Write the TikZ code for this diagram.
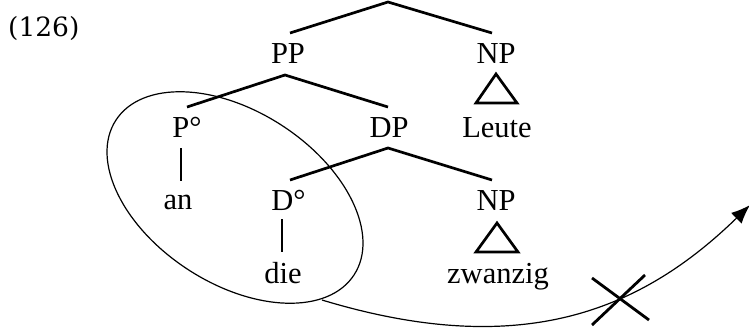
\documentclass[tikz,border=0pt]{standalone}
\usepackage{fontspec}
\setmainfont{Liberation Serif}
\newfontfamily\numfont{DejaVu Serif}
\usetikzlibrary{arrows.meta,shapes.geometric}
\begin{document}
\begin{tikzpicture}[x=1pt,y=-1pt,
  lbl/.style={anchor=base,inner sep=0pt,font=\fontsize{30.5}{32}\selectfont},
  branch/.style={line width=2.7pt},
  thin/.style={line width=1.2pt},
  cross/.style={line width=2.8pt}]
\path[use as bounding box] (0,0) rectangle (749,327);
% example number
\node[anchor=base west,inner sep=0pt,font=\numfont\fontsize{26.5}{28}\selectfont] (num) at (8,36) {(126)};
% labels
\node[lbl] (PP) at (288,63) {PP};
\node[lbl] (NPa) at (496,63) {NP};
\node[lbl] (Po) at (187,137) {P°};
\node[lbl] (DP) at (389,137) {DP};
\node[lbl] (Leute) at (497,137) {Leute};
\node[lbl] (an) at (178,209) {an};
\node[lbl] (Do) at (288.5,210) {D°};
\node[lbl] (NPb) at (496,210) {NP};
\node[lbl] (die) at (283,283) {die};
\node[lbl] (zwanzig) at (498,283) {zwanzig};
% branch points
\coordinate (r0) at (388,2);
\coordinate (rL) at (290,33);
\coordinate (rR) at (492,33);
\coordinate (p0) at (285,75);
\coordinate (pL) at (187,107);
\coordinate (pR) at (388,107);
\coordinate (pv1) at (181,148);
\coordinate (pv2) at (181,181);
\coordinate (d0) at (388,148);
\coordinate (dL) at (290,180);
\coordinate (dR) at (492,180);
\coordinate (dv1) at (282,219);
\coordinate (dv2) at (282,252);
\draw[branch] (rL) -- (r0) -- (rR);
\draw[branch] (pL) -- (p0) -- (pR);
\draw[branch] (pv1) -- (pv2);
\draw[branch] (dL) -- (d0) -- (dR);
\draw[branch] (dv1) -- (dv2);
% triangles
\coordinate (ta) at (496,74);
\coordinate (tb1) at (476,103);
\coordinate (tb2) at (517,103);
\draw[branch,line join=miter] (ta) -- (tb1) -- (tb2) -- cycle;
\coordinate (ua) at (497,223);
\coordinate (ub1) at (476,252);
\coordinate (ub2) at (518,252);
\draw[branch,line join=miter] (ua) -- (ub1) -- (ub2) -- cycle;
% ellipse
\node[draw,thin,ellipse,minimum width=284pt,minimum height=172pt,inner sep=0pt,rotate=-33] (circ) at (235,197.5) {};
% arrow
\coordinate (s) at (322,300);
\coordinate (e) at (750,205);
\draw[thin,-{Latex[length=19pt,width=15pt]}] (s) .. controls (520,360) and (640,312) .. (e);
% cross
\coordinate (x1) at (592,278);
\coordinate (x2) at (649,320);
\coordinate (x3) at (592,325);
\coordinate (x4) at (645,275);
\draw[cross] (x1) -- (x2);
\draw[cross] (x3) -- (x4);
\end{tikzpicture}
\end{document}
